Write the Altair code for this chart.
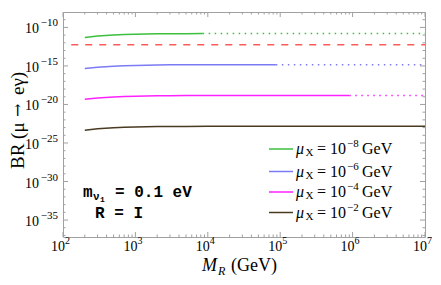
import altair as alt
import pandas as pd

W, H = 362, 225

# --- data ---
mr_green = [200, 300, 500, 700, 1000, 2000, 3000, 5000, 8500]
br_green = [5.0e-12, 7.6e-12, 1.05e-11, 1.2e-11, 1.32e-11, 1.48e-11, 1.52e-11, 1.55e-11, 1.58e-11]
mr_blue = [200, 300, 500, 700, 1000, 2000, 3000, 5000, 1e4, 3e4, 8.7e4]
br_blue = [4.5e-16, 6.8e-16, 9.3e-16, 1.07e-15, 1.17e-15, 1.32e-15, 1.38e-15, 1.41e-15, 1.45e-15, 1.47e-15, 1.48e-15]
mr_mag = [200, 300, 500, 700, 1000, 2000, 3000, 5000, 1e4, 3e4, 1e5, 3e5, 9e5]
br_mag = [4.6e-20, 6.9e-20, 9.4e-20, 1.08e-19, 1.18e-19, 1.33e-19, 1.39e-19, 1.42e-19, 1.46e-19, 1.48e-19, 1.49e-19, 1.49e-19, 1.49e-19]
mr_brown = [200, 300, 500, 700, 1000, 2000, 3000, 5000, 1e4, 3e4, 1e5, 3e5, 1e6, 3e6, 1e7]
br_brown = [4.6e-24, 6.9e-24, 9.4e-24, 1.08e-23, 1.18e-23, 1.34e-23, 1.40e-23, 1.43e-23, 1.47e-23, 1.49e-23, 1.50e-23, 1.51e-23, 1.51e-23, 1.51e-23, 1.51e-23]
dotted_start = [8500, 8.7e4, 9e5]
dotted_end = [1e7, 1e7, 1e7]
dotted_level = [1.58e-11, 1.48e-15, 1.49e-19]
meg_bound = 5.7e-13

series = ["g", "b", "m", "k"]
colors = ["#3cbf3c", "#7b7bf5", "#ff22ff", "#4a3a22"]
legend_exp = ["\u22128", "\u22126", "\u22124", "\u22122"]

x_major = [1e2, 1e3, 1e4, 1e5, 1e6, 1e7]
x_major_exp = ["2", "3", "4", "5", "6", "7"]
y_major = [1e-10, 1e-15, 1e-20, 1e-25, 1e-30, 1e-35]
y_major_exp = ["\u221210", "\u221215", "\u221220", "\u221225", "\u221230", "\u221235"]

# --- build tables ---
rows = []
for s, xs_, ys_ in zip(series, [mr_green, mr_blue, mr_mag, mr_brown], [br_green, br_blue, br_mag, br_brown]):
    for a, b in zip(xs_, ys_):
        rows.append({"x": a, "y": b, "s": s})
solid = pd.DataFrame(rows)
drows = []
for s, a, b, lv in zip(series[:3], dotted_start, dotted_end, dotted_level):
    drows.append({"x": a, "y": lv, "s": s})
    drows.append({"x": b, "y": lv, "s": s})
dotted = pd.DataFrame(drows)

xminor = [k * 10 ** n for n in range(2, 7) for k in range(2, 10)]
yminor = [10.0 ** (-e) for e in range(9, 38) if e % 5 != 0]

xsc = alt.Scale(type="log", domain=[1e2, 1e7], nice=False)
ysc = alt.Scale(type="log", domain=[10 ** -37.2, 1e-8], nice=False)
X = alt.X("x:Q", scale=xsc, axis=None)
Y = alt.Y("y:Q", scale=ysc, axis=None)
cscale = alt.Scale(domain=series, range=colors)
FRAME = "#a0a0a0"
SERIF = "Liberation Serif"

solid_l = alt.Chart(solid).mark_line(strokeWidth=1.5).encode(
    x=X, y=Y, color=alt.Color("s:N", scale=cscale, legend=None), detail="s:N")
dotted_l = alt.Chart(dotted).mark_line(strokeWidth=1.5, strokeDash=[1.5, 4.5]).encode(
    x=X, y=Y, color=alt.Color("s:N", scale=cscale, legend=None), detail="s:N")
meg = alt.Chart(pd.DataFrame({"x": [1.3e2, 1e7], "y": [meg_bound, meg_bound]})).mark_line(
    strokeWidth=1.5, strokeDash=[7, 7], color="#ff5a5a").encode(x=X, y=Y)

def xticks(vals, L):
    d = pd.DataFrame({"x": vals})
    b = alt.Chart(d).mark_rule(color=FRAME, strokeWidth=1).encode(x=X, y=alt.value(H), y2=alt.value(H - L))
    t = alt.Chart(d).mark_rule(color=FRAME, strokeWidth=1).encode(x=X, y=alt.value(0), y2=alt.value(L))
    return [b, t]

def yticks(vals, L):
    d = pd.DataFrame({"y": vals})
    l = alt.Chart(d).mark_rule(color=FRAME, strokeWidth=1).encode(y=Y, x=alt.value(0), x2=alt.value(L))
    r = alt.Chart(d).mark_rule(color=FRAME, strokeWidth=1).encode(y=Y, x=alt.value(W), x2=alt.value(W - L))
    return [l, r]

ticks = xticks(x_major, 5) + xticks(xminor, 2.5) + yticks(y_major, 5) + yticks(yminor, 2.5)

xl = pd.DataFrame({"x": x_major, "e": x_major_exp})
xlab_base = alt.Chart(xl).mark_text(font=SERIF, fontSize=14, align="right", baseline="middle", dx=2).encode(
    x=X, y=alt.value(H + 10), text=alt.value("10"))
xlab_sup = alt.Chart(xl).mark_text(font=SERIF, fontSize=10, align="left", baseline="middle", dx=2).encode(
    x=X, y=alt.value(H + 4), text="e:N")
yl = pd.DataFrame({"y": y_major, "e": y_major_exp})
ylab_base = alt.Chart(yl).mark_text(font=SERIF, fontSize=14, align="right", baseline="middle", dy=2).encode(
    y=Y, x=alt.value(-24), text=alt.value("10"))
ylab_sup = alt.Chart(yl).mark_text(font=SERIF, fontSize=11, align="right", baseline="middle", dy=-4).encode(
    y=Y, x=alt.value(-5), text="e:N")

def txt(s, x, y, size, font=SERIF, style="normal", weight="normal", align="left", angle=0, baseline="middle"):
    return alt.Chart(alt.Data(values=[{}])).mark_text(
        font=font, fontSize=size, fontStyle=style, fontWeight=weight, align=align,
        baseline=baseline, color="black", angle=angle).encode(
        x=alt.value(x), y=alt.value(y), text=alt.value(s))

# legend (drawn inside the frame)
leg = []
leg_y = [137, 159.5, 180, 200.5]
for c, e, ly in zip(colors, legend_exp, leg_y):
    leg.append(alt.Chart(alt.Data(values=[{}])).mark_rule(color=c, strokeWidth=1.5).encode(
        x=alt.value(206), x2=alt.value(230), y=alt.value(ly)))
    leg.append(txt("\u03bc", 233, ly, 16, style="italic"))
    leg.append(txt("X", 242.5, ly + 4, 11))
    leg.append(txt("= 10", 254, ly, 16))
    leg.append(txt(e, 284, ly - 5, 11))
    leg.append(txt("GeV", 299, ly, 16))

MONO = "Liberation Mono"
ann = [
    txt("m", 20, 180, 16, font=MONO, weight="bold"),
    txt("\u03bd", 30, 185, 11, font=MONO, weight="bold"),
    txt("1", 37, 188, 8, font=MONO, weight="bold"),
    txt("= 0.1 eV", 52, 180, 16, font=MONO, weight="bold"),
    txt("R = I", 32, 201, 16, font=MONO, weight="bold"),
]

titles = [
    txt("BR (\u03bc", -45, 157, 19, angle=270),
    txt("\u2192", -45, 105, 16, font="DejaVu Serif", angle=270),
    txt("e\u03b3)", -45, 83, 19, angle=270),
    txt("M", 139, 259, 18, style="italic", baseline="alphabetic"),
    txt("R", 155, 263, 12, style="italic", baseline="alphabetic"),
    txt("(GeV)", 168, 259, 18, baseline="alphabetic"),
]

chart = alt.layer(
    meg, dotted_l, solid_l, *ticks, xlab_base, xlab_sup, ylab_base, ylab_sup, *leg, *ann, *titles
).properties(
    width=W, height=H,
    autosize=alt.AutoSizeParams(type="none"),
    padding={"left": 55, "top": 4, "right": 8, "bottom": 40},
).configure_view(stroke=FRAME, strokeWidth=1)

chart.save("out.html", embed_options={"renderer": "svg", "actions": False})
